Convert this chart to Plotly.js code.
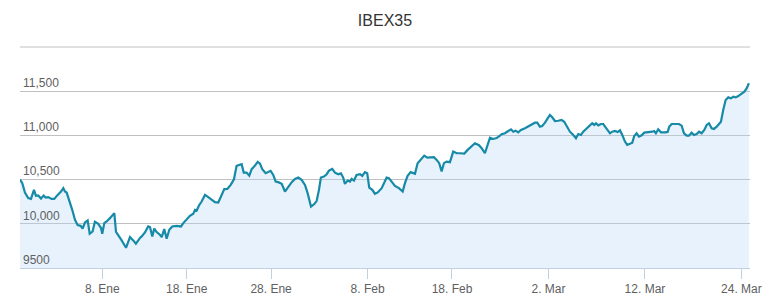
<!DOCTYPE html>
<html>
<head>
<meta charset="utf-8">
<script src="https://cdn.plot.ly/plotly-3.0.1.min.js"></script>
<style>html,body{margin:0;padding:0;background:#fff;}#chart{width:774px;height:305px;}</style>
</head>
<body>
<div id="chart"></div>
<script>
// x: trading days relative to 8 Jan 2015 (weekends skipped, as on the ordinal axis)
const tradingDay = [-6.82,-6.63,-6.41,-6.14,-5.91,-5.66,-5.50,-5.31,-5.08,-4.86,-4.69,-4.48,-4.20,-3.98,-3.70,-3.42,-3.23,-3.09,-2.95,-2.68,-2.49,-2.26,-2.04,-1.79,-1.63,-1.43,-1.21,-1.04,-0.80,-0.61,-0.33,-0.11,0,0.17,0.36,0.64,0.91,1.00,1.14,1.33,1.61,1.97,2.30,2.57,2.79,3.13,3.27,3.54,3.81,3.96,4.15,4.31,4.51,4.78,4.93,5.14,5.34,5.56,5.80,6.17,6.53,6.72,7.00,7.27,7.55,7.69,7.83,8.02,8.24,8.52,8.79,9.07,9.35,9.62,9.84,10.12,10.37,10.65,10.92,11.14,11.34,11.56,11.73,11.97,12.19,12.39,12.66,12.89,13.08,13.27,13.55,13.76,13.96,14.18,14.38,14.59,14.88,15.15,15.42,15.71,15.98,16.25,16.53,16.81,17.03,17.31,17.58,17.78,17.97,18.13,18.38,18.61,18.80,19.07,19.30,19.57,19.79,19.98,20.12,20.35,20.54,20.68,20.87,21.09,21.37,21.56,21.78,21.97,22.14,22.39,22.61,22.84,23.17,23.38,23.58,23.77,24.00,24.27,24.60,24.91,25.10,25.32,25.57,25.74,25.93,26.15,26.43,26.70,26.95,27.23,27.50,27.73,27.94,28.14,28.33,28.56,28.83,29.10,29.39,29.66,30.02,30.30,30.63,30.90,31.24,31.46,31.73,31.92,32.15,32.42,32.70,32.98,33.12,33.39,33.67,33.89,34.08,34.28,34.49,34.72,35.05,35.32,35.61,35.88,36.07,36.29,36.48,36.71,36.93,37.12,37.31,37.54,37.81,38.09,38.31,38.51,38.78,39.06,39.28,39.47,39.69,39.88,40.17,40.44,40.63,40.80,40.94,41.13,41.35,41.54,41.68,41.87,42.10,42.29,42.51,42.74,42.93,43.12,43.34,43.53,43.76,43.95,44.11,44.31,44.50,44.73,44.94,45.19,45.42,45.61,45.77,45.91,46.10,46.33,46.66,46.88,47.02,47.21,47.49,47.82,48.04,48.24,48.46,48.65,48.87,49.06,49.29,49.48,49.70,49.92,50.12,50.31,50.53,50.72,50.95,51.14,51.30,51.49,51.69,51.91,52.13,52.32,52.52,52.74,52.96,53.24,53.43,53.62];

const ibex = [10500,10460,10353,10290,10282,10384,10316,10320,10286,10320,10297,10302,10282,10282,10327,10365,10403,10365,10353,10252,10158,10045,9985,9977,9947,10015,10037,9887,9913,10023,10000,9955,9887,10008,10026,10064,10113,10121,9910,9873,9812,9729,9850,9812,9775,9840,9857,9902,9970,9963,9857,9947,9906,9876,9850,9940,9831,9932,9970,9977,9970,10008,10053,10090,10113,10158,10150,10207,10252,10327,10302,10271,10245,10241,10309,10392,10395,10440,10504,10655,10666,10674,10579,10579,10545,10618,10658,10700,10680,10618,10573,10584,10599,10553,10478,10471,10452,10365,10421,10471,10508,10523,10497,10440,10347,10195,10223,10260,10384,10523,10534,10561,10602,10621,10579,10561,10572,10523,10452,10489,10478,10508,10489,10553,10561,10542,10584,10572,10410,10384,10340,10355,10403,10460,10523,10516,10478,10429,10403,10365,10460,10542,10584,10572,10565,10686,10734,10771,10749,10749,10753,10723,10686,10591,10686,10704,10697,10817,10798,10798,10794,10836,10881,10911,10889,10855,10798,10892,10975,10960,10970,10997,11013,11024,11050,11069,11042,11054,11035,11061,11081,11099,11118,11144,11144,11099,11107,11144,11193,11231,11205,11163,11166,11174,11155,11107,11042,11005,10968,11016,11005,11042,11081,11107,11137,11118,11137,11114,11129,11129,11099,11061,11024,11042,11050,11038,11058,11005,10930,10892,10904,10918,10993,11024,10986,11001,11031,11035,11031,11042,11050,11024,11069,11035,11035,11039,11099,11129,11129,11129,11110,11024,10997,10997,11031,11005,11016,11042,11024,11061,11118,11137,11081,11073,11099,11129,11155,11287,11400,11430,11419,11437,11430,11445,11468,11494,11532,11589];

const xTickDays = [0, 7, 14, 22, 29, 37, 45, 53];
const xTickLabels = ['8. Ene', '18. Ene', '28. Ene', '8. Feb', '18. Feb', '2. Mar', '12. Mar', '24. Mar'];
const yTickVals = [9500, 10000, 10500, 11000, 11500, 12000];
const yTickLabels = ['9500', '10,000', '10,500', '11,000', '11,500', ''];

const trace = {
  x: tradingDay,
  y: ibex,
  type: 'scatter',
  mode: 'lines',
  line: {color: '#168aa6', width: 2.2},
  fill: 'tozeroy',
  fillcolor: 'rgba(180,215,250,0.32)',
  hoverinfo: 'x+y'
};

const layout = {
  width: 774,
  height: 305,
  margin: {l: 20, r: 24, t: 47, b: 37, pad: 0},
  paper_bgcolor: '#ffffff',
  plot_bgcolor: '#ffffff',
  showlegend: false,
  font: {family: 'Liberation Sans, Arial, sans-serif', color: '#606060', size: 12},
  title: {
    text: 'IBEX35',
    font: {family: 'Liberation Sans, Arial, sans-serif', size: 16, color: '#333333'},
    x: 0.5, xref: 'paper', xanchor: 'center',
    y: 1 - 20 / 305, yref: 'container', yanchor: 'middle'
  },
  xaxis: {
    range: [-6.82, 53.71],
    tickmode: 'array',
    tickvals: xTickDays,
    ticktext: xTickLabels,
    showgrid: false,
    zeroline: false,
    showline: true,
    linecolor: '#C0D0E0',
    linewidth: 1,
    ticks: 'outside',
    ticklen: 10,
    tickwidth: 1,
    tickcolor: '#C0D0E0',
    tickfont: {size: 12, color: '#606060'},
    fixedrange: true
  },
  yaxis: {
    range: [9500, 12000],
    tickmode: 'array',
    tickvals: yTickVals,
    ticktext: yTickLabels,
    ticklabelposition: 'inside top',
    showgrid: true,
    gridcolor: '#C0C0C0',
    gridwidth: 1,
    zeroline: false,
    showline: false,
    ticks: '',
    tickfont: {size: 12, color: '#606060'},
    fixedrange: true
  },
  shapes: [{
    type: 'line', xref: 'paper', yref: 'paper',
    x0: 0, x1: 1, y0: 1, y1: 1,
    line: {color: '#C0C0C0', width: 1},
    layer: 'below'
  }]
};

Plotly.newPlot('chart', [trace], layout, {displayModeBar: false, staticPlot: true});
</script>
</body>
</html>
